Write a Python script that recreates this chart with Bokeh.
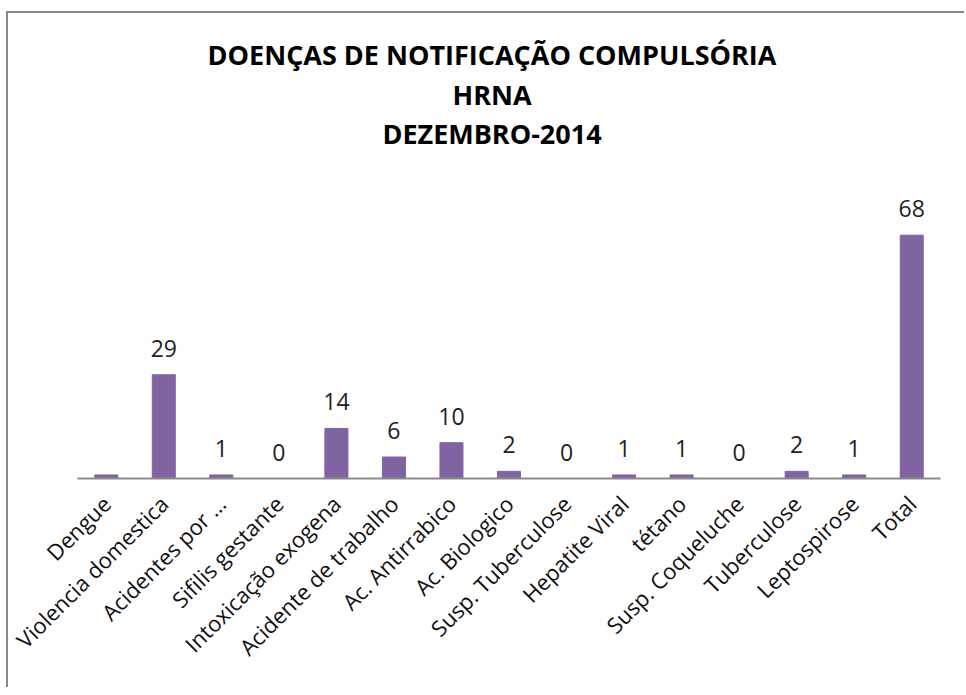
import math
from bokeh.plotting import figure
from bokeh.models import ColumnDataSource, Label, Range1d, FactorRange
from bokeh.core.properties import value
from bokeh.embed import file_html
from bokeh.resources import INLINE

# ---- data ----
categories = ["Dengue", "Violencia domestica", "Acidentes por ...", "Sifilis gestante",
              "Intoxicação exogena", "Acidente de trabalho", "Ac. Antirrabico",
              "Ac. Biologico", "Susp. Tuberculose", "Hepatite Viral", "tétano",
              "Susp. Coqueluche", "Tuberculose", "Leptospirose", "Total"]
counts = [1, 29, 1, 0, 14, 6, 10, 2, 0, 1, 1, 0, 2, 1, 68]
# the reference shows no data label above the Dengue bar
value_labels = ["" if c == "Dengue" else str(v) for c, v in zip(categories, counts)]
title_lines = ["DOENÇAS DE NOTIFICAÇÃO COMPULSÓRIA", "HRNA", "DEZEMBRO-2014"]

source = ColumnDataSource(dict(cat=categories, val=counts, lab=value_labels))

p = figure(width=958, height=676, output_backend="svg", toolbar_location=None,
           x_range=FactorRange(*categories, range_padding=0.0),
           y_range=Range1d(0, 128),
           min_border_left=69, min_border_right=26, min_border_top=7,
           min_border_bottom=211)
p.styles = {"border-top": "2px solid #898989", "border-left": "2px solid #898989",
            "margin-top": "11px", "margin-left": "6px"}

p.vbar(x="cat", top="val", width=0.4, source=source,
       fill_color="#8064A2", line_color="#8064A2", line_width=1)

p.text(x="cat", y="val", text="lab", source=source, y_offset=-18,
       text_align="center", text_baseline="bottom",
       text_font=value("Open Sans"), text_font_size="23px", text_color="#222222")

p.outline_line_color = None
p.grid.visible = False
p.yaxis.visible = False
p.xaxis.axis_line_color = "#8a8a8a"
p.xaxis.axis_line_width = 2
p.xaxis.major_tick_line_color = None
p.xaxis.minor_tick_line_color = None
p.xaxis.major_label_orientation = math.pi / 4
p.xaxis.major_label_text_font = "Open Sans"
p.xaxis.major_label_text_font_size = "22px"
p.xaxis.major_label_text_color = "#111111"
p.xaxis.major_label_standoff = 15

baselines = [424, 384, 345]
for txt, yb in zip(title_lines, baselines):
    p.add_layout(Label(x=414.5, y=yb, x_units="screen", y_units="screen", text=txt,
                       text_align="center", text_baseline="alphabetic",
                       text_font="Open Sans", text_font_style="bold",
                       text_font_size="27px", text_color="#000000"))

open("out.html", "w").write(file_html(p, INLINE))
